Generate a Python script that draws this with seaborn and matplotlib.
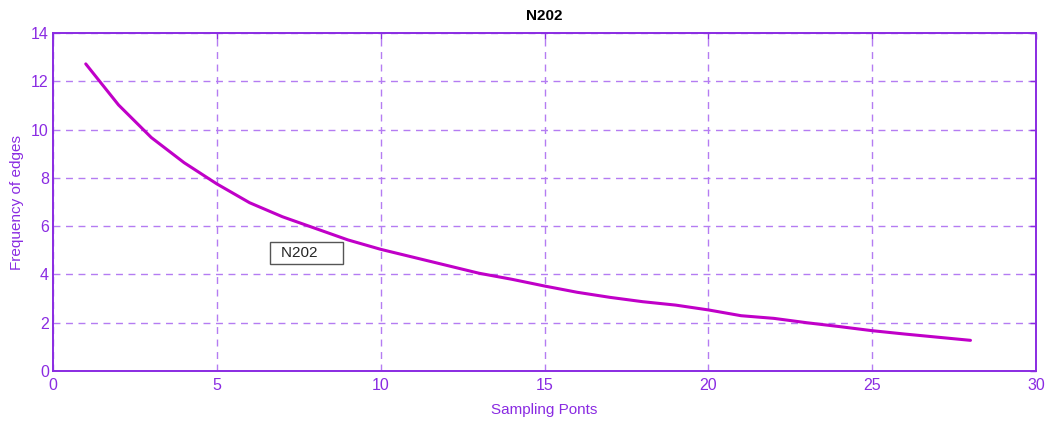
import matplotlib
matplotlib.use("Agg")
import matplotlib.pyplot as plt
import seaborn as sns
import pandas as pd

# Edge frequency per sampling point
sampling_points = list(range(1, 29))
edge_frequency = [12.72, 11.02, 9.67, 8.63, 7.75, 6.97, 6.39, 5.91, 5.43, 5.04,
                  4.71, 4.38, 4.05, 3.80, 3.52, 3.26, 3.05, 2.87, 2.73, 2.53,
                  2.29, 2.18, 2.00, 1.84, 1.67, 1.53, 1.40, 1.27]
series_name = "N202"

x_ticks = [0, 5, 10, 15, 20, 25, 30]
y_ticks = [0, 2, 4, 6, 8, 10, 12, 14]

sns.set_style("white")
plt.rcParams["font.family"] = ["Liberation Sans", "DejaVu Sans"]

axis_color = "#8A2BE2"
grid_color = "#B47CF2"
line_color = "#C000C8"

df = pd.DataFrame({"x": sampling_points, "y": edge_frequency, "name": series_name})

fig = plt.figure(figsize=(10.49, 4.21), dpi=100)
ax = fig.add_axes([53 / 1049, 1 - 371 / 421, 983 / 1049, 338 / 421])

sns.lineplot(data=df, x="x", y="y", ax=ax, color=line_color, linewidth=2.2,
             label=series_name, legend=False)

ax.set_xlim(0, 30)
ax.set_ylim(0, 14)
ax.set_xticks(x_ticks)
ax.set_yticks(y_ticks)

ax.grid(True, color=grid_color, linestyle=(0, (5, 4)), linewidth=1.0)
for side in ["left", "right", "top", "bottom"]:
    ax.spines[side].set_color(axis_color)
    ax.spines[side].set_linewidth(1.4)
ax.tick_params(axis="both", which="both", direction="in", length=4, width=1,
               color=axis_color, labelcolor=axis_color, labelsize=11.5,
               top=True, right=True)
ax.tick_params(axis="x", pad=5)
ax.tick_params(axis="y", pad=3)

ax.set_xlabel("Sampling Ponts", color=axis_color, fontsize=11, labelpad=7)
ax.set_ylabel("Frequency of edges", color=axis_color, fontsize=11, labelpad=5)
ax.set_title("N202", fontsize=11, fontweight="bold", color="black", pad=9)

# Legend entry shown as text in a plain box (empty handle, padded on the right)
leg = ax.legend(handles=[plt.Line2D([], [], color="none")],
                labels=[series_name + "     "],
                loc="lower left", bbox_to_anchor=(0.221, 0.317),
                handlelength=0.35, handletextpad=0.1,
                borderpad=0.25, fancybox=False, framealpha=1,
                edgecolor="#555555", fontsize=11, borderaxespad=0)
leg.get_frame().set_linewidth(1.0)

fig.savefig("out.png", dpi=100, facecolor="white")
